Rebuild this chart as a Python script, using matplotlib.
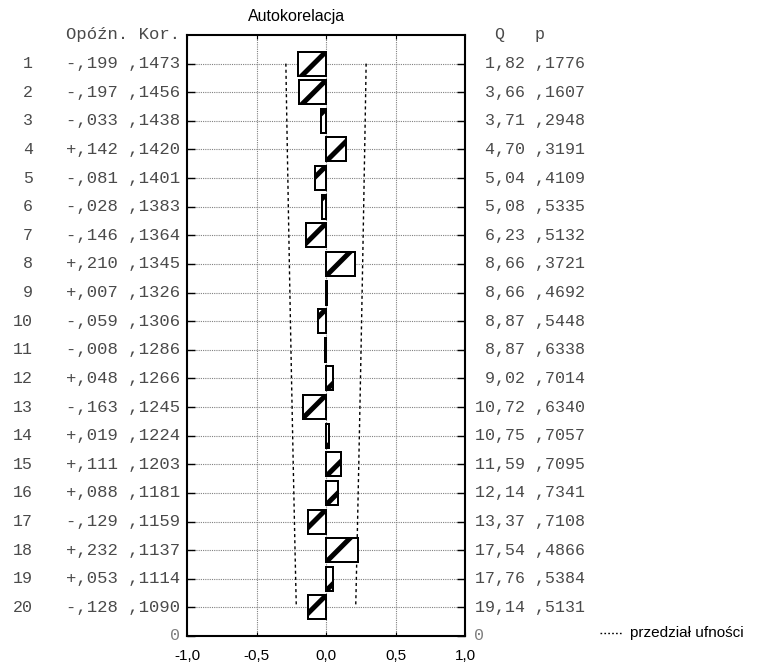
import matplotlib

matplotlib.use("Agg")
import matplotlib.pyplot as plt
import matplotlib.transforms as mtransforms
from matplotlib.lines import Line2D
from matplotlib.patches import Rectangle

W_PX, H_PX = 757, 668
MONO = "Liberation Mono"
SANS = "Liberation Sans"
TXT_COLOR = "#4a4a4a"

lags = list(range(1, 21))
autocorr = [-0.199, -0.197, -0.033, 0.142, -0.081, -0.028, -0.146, 0.210, 0.007, -0.059,
            -0.008, 0.048, -0.163, 0.019, 0.111, 0.088, -0.129, 0.232, 0.053, -0.128]
std_err = [0.1473, 0.1456, 0.1438, 0.1420, 0.1401, 0.1383, 0.1364, 0.1345, 0.1326, 0.1306,
           0.1286, 0.1266, 0.1245, 0.1224, 0.1203, 0.1181, 0.1159, 0.1137, 0.1114, 0.1090]
q_stat = [1.82, 3.66, 3.71, 4.70, 5.04, 5.08, 6.23, 8.66, 8.66, 8.87,
          8.87, 9.02, 10.72, 10.75, 11.59, 12.14, 13.37, 17.54, 17.76, 19.14]
p_val = [0.1776, 0.1607, 0.2948, 0.3191, 0.4109, 0.5335, 0.5132, 0.3721, 0.4692, 0.5448,
         0.6338, 0.7014, 0.6340, 0.7057, 0.7095, 0.7341, 0.7108, 0.4866, 0.5384, 0.5131]
x_ticks = [-1.0, -0.5, 0.0, 0.5, 1.0]
x_labels = ["-1,0", "-0,5", "0,0", "0,5", "1,0"]

N_ROWS = len(lags) + 1
BAR_H = 0.84
Z = 1.96


def frac(v, nd):
    # ",1473" style (no leading zero, comma decimal)
    return f"{v:.{nd}f}"[1:].replace(".", ",")


fig = plt.figure(figsize=(W_PX / 100, H_PX / 100), dpi=100)
ax_l, ax_r, ax_t, ax_b = 187, 465, 35, 636
ax = fig.add_axes([ax_l / W_PX, (H_PX - ax_b) / H_PX,
                   (ax_r - ax_l) / W_PX, (ax_b - ax_t) / H_PX])
ax.set_xlim(-1, 1)
ax.set_ylim(0, N_ROWS)

# y position of each lag (lag 1 on top)
ypos = [N_ROWS - k for k in lags]

# grid
for y in ypos:
    ax.axhline(y, color="#808080", lw=0.8, ls=(0, (1, 1)), zorder=1)
for x in [-0.5, 0.0, 0.5]:
    ax.axvline(x, color="#808080", lw=0.8, ls=(0, (1, 1)), zorder=1)

# confidence limits
upper = [Z * s for s in std_err]
lower = [-Z * s for s in std_err]
ax.plot(upper, ypos, color="black", lw=1.0, ls=(0, (2.2, 2.2)), zorder=2)
ax.plot(lower, ypos, color="black", lw=1.0, ls=(0, (2.2, 2.2)), zorder=2)

# bars with one diagonal stripe
px_x = (ax_r - ax_l) / 2.0
px_y = (ax_b - ax_t) / N_ROWS
slope = px_x / px_y
for r, y in zip(autocorr, ypos):
    yb = y - BAR_H / 2
    rect = Rectangle((min(r, 0), yb), abs(r), BAR_H, facecolor="white",
                     edgecolor="black", lw=1.4, zorder=3)
    ax.add_patch(rect)
    y0 = yb if r >= 0 else yb + BAR_H
    ln, = ax.plot([-1, 1], [y0 - slope, y0 + slope], color="black", lw=3.6,
                  solid_capstyle="butt", zorder=4)
    ln.set_clip_path(rect)
    edge = Rectangle((min(r, 0), yb), abs(r), BAR_H, facecolor="none",
                     edgecolor="black", lw=1.4, zorder=5)
    ax.add_patch(edge)

# axes styling
for side in ["left", "bottom", "right", "top"]:
    ax.spines[side].set_linewidth(1.5)
    ax.spines[side].set_zorder(6)
ax.set_xticks(x_ticks)
ax.set_xticklabels(x_labels, fontfamily=SANS, fontsize=11)
ax.tick_params(axis="x", direction="in", length=3, width=0.8, top=True, pad=9)
ax.set_yticks([0] + ypos)
ax.set_yticklabels([])
ax.tick_params(axis="y", direction="in", length=6, width=1.0, right=True)

# left / right text columns
left_tr = mtransforms.blended_transform_factory(fig.transFigure, ax.transData)
for k, r, s, q, p, y in zip(lags, autocorr, std_err, q_stat, p_val, ypos):
    sign = "+" if r >= 0 else "-"
    ax.text(33 / W_PX, y, f"{k}", transform=left_tr, ha="right", va="center",
            fontfamily=MONO, fontsize=12, color=TXT_COLOR)
    ax.text(180 / W_PX, y, f"{sign}{frac(abs(r), 3)} {frac(s, 4)}", transform=left_tr,
            ha="right", va="center", fontfamily=MONO, fontsize=12.4, color=TXT_COLOR)
    q_txt = f"{q:.2f}".replace(".", ",")
    ax.text(475 / W_PX, y, f"{q_txt:>5} {frac(p, 4)}", transform=left_tr,
            ha="left", va="center", fontfamily=MONO, fontsize=12, color=TXT_COLOR)

ax.text(180 / W_PX, N_ROWS, "Opóźn. Kor.", transform=left_tr, ha="right", va="center",
        fontfamily=MONO, fontsize=12.4, color=TXT_COLOR)
ax.text(475 / W_PX, N_ROWS, "  Q   p", transform=left_tr, ha="left", va="center",
        fontfamily=MONO, fontsize=12, color=TXT_COLOR)
ax.text(180 / W_PX, 0, "0", transform=left_tr, ha="right", va="center",
        fontfamily=MONO, fontsize=12, color="#808080")
ax.text(474 / W_PX, 0, "0", transform=left_tr, ha="left", va="center",
        fontfamily=MONO, fontsize=12, color="#808080")

# title
fig.text(297 / W_PX, 1 - 21 / H_PX, "Autokorelacja", ha="center", va="baseline",
         fontfamily=SANS, fontsize=11.5)

# legend
fig.add_artist(Line2D([600 / W_PX, 623 / W_PX], [1 - 633 / H_PX] * 2,
                      transform=fig.transFigure, color="black", lw=1.0,
                      ls=(0, (1.2, 1.6))))
fig.text(630 / W_PX, 1 - 633 / H_PX, "przedział ufności", ha="left", va="center",
         fontfamily=SANS, fontsize=11)

fig.savefig("out.png", dpi=100)
